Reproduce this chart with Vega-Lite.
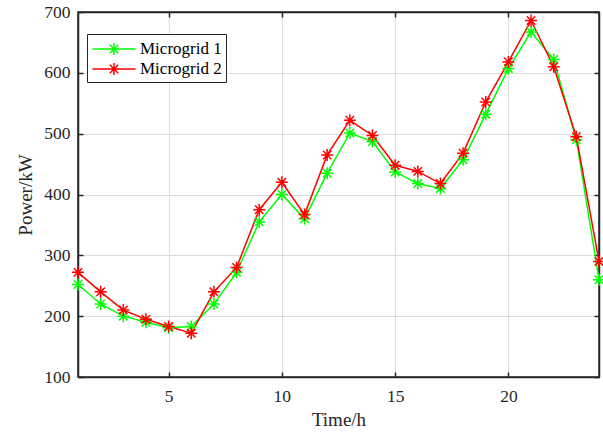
{
  "$schema": "https://vega.github.io/schema/vega-lite/v6.json",
  "width": 521,
  "height": 365,
  "padding": {"left": 78, "top": 12, "right": 4, "bottom": 55},
  "autosize": {"type": "none"},
  "background": "white",
  "config": {
    "font": "Liberation Serif",
    "view": {"stroke": "#262626", "strokeWidth": 1.5},
    "axis": {
      "domainColor": "#262626",
      "domainWidth": 1.5,
      "tickColor": "#262626",
      "tickWidth": 1.5,
      "tickSize": -5,
      "gridColor": "#dcdcdc",
      "gridWidth": 1,
      "labelFont": "Liberation Serif",
      "labelFontSize": 17.5,
      "labelColor": "#262626",
      "titleFont": "Liberation Serif",
      "titleFontSize": 19,
      "titleFontWeight": "normal",
      "titleColor": "#262626"
    }
  },
  "data": {
    "values": [
      {"t": 1, "grid": "Microgrid 1", "p": 252},
      {"t": 2, "grid": "Microgrid 1", "p": 220},
      {"t": 3, "grid": "Microgrid 1", "p": 200},
      {"t": 4, "grid": "Microgrid 1", "p": 190},
      {"t": 5, "grid": "Microgrid 1", "p": 181},
      {"t": 6, "grid": "Microgrid 1", "p": 183},
      {"t": 7, "grid": "Microgrid 1", "p": 220},
      {"t": 8, "grid": "Microgrid 1", "p": 272},
      {"t": 9, "grid": "Microgrid 1", "p": 355},
      {"t": 10, "grid": "Microgrid 1", "p": 400},
      {"t": 11, "grid": "Microgrid 1", "p": 360},
      {"t": 12, "grid": "Microgrid 1", "p": 435},
      {"t": 13, "grid": "Microgrid 1", "p": 501},
      {"t": 14, "grid": "Microgrid 1", "p": 487},
      {"t": 15, "grid": "Microgrid 1", "p": 437},
      {"t": 16, "grid": "Microgrid 1", "p": 418},
      {"t": 17, "grid": "Microgrid 1", "p": 410},
      {"t": 18, "grid": "Microgrid 1", "p": 457},
      {"t": 19, "grid": "Microgrid 1", "p": 532},
      {"t": 20, "grid": "Microgrid 1", "p": 607},
      {"t": 21, "grid": "Microgrid 1", "p": 667},
      {"t": 22, "grid": "Microgrid 1", "p": 622},
      {"t": 23, "grid": "Microgrid 1", "p": 490},
      {"t": 24, "grid": "Microgrid 1", "p": 260},
      {"t": 1, "grid": "Microgrid 2", "p": 272},
      {"t": 2, "grid": "Microgrid 2", "p": 240},
      {"t": 3, "grid": "Microgrid 2", "p": 210},
      {"t": 4, "grid": "Microgrid 2", "p": 195},
      {"t": 5, "grid": "Microgrid 2", "p": 183},
      {"t": 6, "grid": "Microgrid 2", "p": 172},
      {"t": 7, "grid": "Microgrid 2", "p": 240},
      {"t": 8, "grid": "Microgrid 2", "p": 280},
      {"t": 9, "grid": "Microgrid 2", "p": 375},
      {"t": 10, "grid": "Microgrid 2", "p": 420},
      {"t": 11, "grid": "Microgrid 2", "p": 367},
      {"t": 12, "grid": "Microgrid 2", "p": 465},
      {"t": 13, "grid": "Microgrid 2", "p": 522},
      {"t": 14, "grid": "Microgrid 2", "p": 497},
      {"t": 15, "grid": "Microgrid 2", "p": 448},
      {"t": 16, "grid": "Microgrid 2", "p": 438},
      {"t": 17, "grid": "Microgrid 2", "p": 418},
      {"t": 18, "grid": "Microgrid 2", "p": 468},
      {"t": 19, "grid": "Microgrid 2", "p": 552},
      {"t": 20, "grid": "Microgrid 2", "p": 618},
      {"t": 21, "grid": "Microgrid 2", "p": 686},
      {"t": 22, "grid": "Microgrid 2", "p": 610},
      {"t": 23, "grid": "Microgrid 2", "p": 495},
      {"t": 24, "grid": "Microgrid 2", "p": 290}
    ]
  },
  "layer": [
    {
      "mark": {
        "type": "line",
        "strokeWidth": 1.5,
        "point": {
          "shape": "M-1,0L1,0M0,-1L0,1M-0.7,-0.7L0.7,0.7M-0.7,0.7L0.7,-0.7",
          "filled": false,
          "size": 144,
          "strokeWidth": 1.5
        }
      },
      "encoding": {
        "x": {
          "field": "t", "type": "quantitative",
          "scale": {"domain": [1, 24], "nice": false, "zero": false},
          "axis": {"title": "Time/h", "values": [5, 10, 15, 20], "labelPadding": 15, "titlePadding": 6}
        },
        "y": {
          "field": "p", "type": "quantitative",
          "scale": {"domain": [100, 700], "nice": false, "zero": false},
          "axis": {"title": "Power/kW", "values": [100, 200, 300, 400, 500, 600, 700], "labelPadding": 13, "titlePadding": 8}
        },
        "color": {
          "field": "grid", "type": "nominal",
          "scale": {"domain": ["Microgrid 1", "Microgrid 2"], "range": ["#00ff00", "#ff0000"]},
          "legend": {
            "title": null,
            "orient": "none",
            "legendX": 9,
            "legendY": 22,
            "direction": "vertical",
            "strokeColor": "#262626",
            "fillColor": "white",
            "padding": 4,
            "symbolType": "M-2.15,0L2.15,0M0,-0.6L0,0.6M-0.6,0L0.6,0M-0.42,-0.42L0.42,0.42M-0.42,0.42L0.42,-0.42",
            "symbolSize": 400,
            "symbolOffset": 12,
            "symbolStrokeWidth": 1.5,
            "symbolFillColor": "transparent",
            "labelFont": "Liberation Serif",
            "labelFontSize": 17,
            "labelColor": "#000000",
            "labelOffset": 15,
            "rowPadding": 0
          }
        }
      }
    },
    {
      "mark": {"type": "point", "opacity": 0},
      "encoding": {
        "x": {
          "field": "t", "type": "quantitative",
          "axis": {"orient": "top", "title": null, "values": [5, 10, 15, 20], "labels": false, "grid": false}
        },
        "y": {
          "field": "p", "type": "quantitative",
          "axis": {"orient": "right", "title": null, "values": [100, 200, 300, 400, 500, 600, 700], "labels": false, "grid": false}
        }
      }
    }
  ],
  "resolve": {"axis": {"x": "independent", "y": "independent"}}
}
